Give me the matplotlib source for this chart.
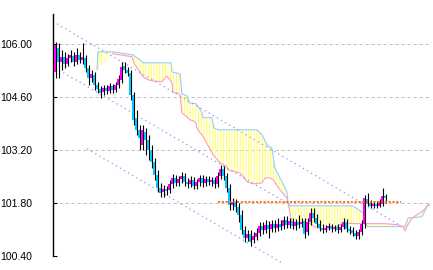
import numpy as np
import matplotlib
matplotlib.use("Agg")
import matplotlib.pyplot as plt

# ---------------- data ----------------
opens = [105.26, 105.89, 105.52, 105.66, 105.47, 105.63, 105.68, 105.52, 105.71, 105.58,
         105.63, 105.37, 105.10, 105.18, 104.92, 104.81, 104.73, 104.84, 104.76, 104.89,
         104.79, 104.92, 105.05, 105.42, 105.31, 105.23, 104.65, 104.05, 103.73, 103.33,
         103.68, 103.46, 103.20, 102.88, 102.54, 102.20, 102.09, 102.17, 102.14, 102.30,
         102.46, 102.33, 102.43, 102.51, 102.36, 102.30, 102.41, 102.25, 102.36, 102.46,
         102.33, 102.43, 102.36, 102.41, 102.30, 102.51, 102.70, 102.51, 102.20, 101.75,
         101.83, 101.70, 101.48, 101.09, 100.88, 100.98, 100.82, 100.90, 101.01, 101.19,
         101.09, 101.22, 101.11, 101.25, 101.14, 101.25, 101.19, 101.35, 101.22, 101.33,
         101.19, 101.30, 101.25, 101.33, 101.03, 101.30, 101.54, 101.40, 101.25, 101.14,
         101.09, 101.14, 101.19, 101.11, 101.17, 101.09, 101.17, 101.30, 101.11, 101.09,
         101.01, 100.93, 101.03, 101.25, 101.91, 101.80, 101.72, 101.77, 101.72, 101.77,
         101.99]
closes = [105.97, 105.52, 105.66, 105.47, 105.63, 105.71, 105.52, 105.71, 105.58, 105.66,
          105.37, 105.10, 105.21, 104.92, 104.81, 104.71, 104.84, 104.76, 104.89, 104.79,
          104.92, 105.08, 105.39, 105.31, 105.23, 104.65, 103.99, 103.73, 103.52, 103.73,
          103.46, 103.20, 102.88, 102.54, 102.20, 102.06, 102.17, 102.12, 102.30, 102.46,
          102.33, 102.43, 102.51, 102.36, 102.30, 102.41, 102.25, 102.36, 102.46, 102.33,
          102.43, 102.36, 102.41, 102.30, 102.51, 102.70, 102.51, 102.20, 101.75, 101.83,
          101.70, 101.48, 101.09, 100.88, 100.98, 100.77, 100.93, 101.01, 101.19, 101.09,
          101.22, 101.11, 101.25, 101.14, 101.25, 101.17, 101.35, 101.22, 101.33, 101.19,
          101.30, 101.22, 101.30, 100.98, 101.30, 101.54, 101.40, 101.25, 101.14, 101.09,
          101.14, 101.19, 101.11, 101.17, 101.09, 101.17, 101.30, 101.11, 101.06, 101.01,
          100.93, 101.03, 101.25, 101.93, 101.77, 101.72, 101.77, 101.72, 101.83, 101.99,
          101.93]
highs = [106.05, 106.03, 105.84, 105.79, 105.74, 105.84, 105.79, 105.89, 105.79, 106.03,
         105.71, 105.45, 105.31, 105.26, 105.00, 104.89, 104.92, 104.92, 104.97, 104.94,
         105.00, 105.18, 105.52, 105.52, 105.39, 105.31, 104.73, 104.26, 103.86, 103.86,
         103.78, 103.60, 103.33, 102.99, 102.67, 102.33, 102.28, 102.25, 102.41, 102.57,
         102.54, 102.51, 102.62, 102.59, 102.46, 102.51, 102.49, 102.43, 102.54, 102.54,
         102.51, 102.51, 102.49, 102.49, 102.62, 102.80, 102.78, 102.59, 102.30, 101.93,
         101.91, 101.80, 101.62, 101.19, 101.09, 101.09, 101.03, 101.14, 101.30, 101.30,
         101.35, 101.33, 101.35, 101.35, 101.40, 101.35, 101.46, 101.46, 101.40, 101.40,
         101.38, 101.48, 101.40, 101.40, 101.40, 101.67, 101.67, 101.51, 101.35, 101.25,
         101.22, 101.27, 101.25, 101.22, 101.25, 101.25, 101.40, 101.38, 101.19, 101.17,
         101.09, 101.11, 101.35, 102.01, 102.06, 101.88, 101.85, 101.85, 101.91, 102.20,
         102.04]
lows = [105.10, 105.10, 105.31, 105.37, 105.42, 105.52, 105.42, 105.47, 105.50, 105.47,
        105.26, 104.92, 105.00, 104.79, 104.71, 104.57, 104.65, 104.68, 104.71, 104.71,
        104.73, 104.84, 104.97, 105.23, 105.15, 104.52, 103.86, 103.60, 103.20, 103.20,
        103.07, 102.94, 102.72, 102.41, 102.09, 101.96, 101.96, 102.01, 102.06, 102.20,
        102.25, 102.25, 102.33, 102.25, 102.20, 102.22, 102.17, 102.17, 102.25, 102.22,
        102.25, 102.28, 102.25, 102.20, 102.22, 102.43, 102.41, 102.09, 101.62, 101.62,
        101.56, 101.30, 100.98, 100.77, 100.80, 100.67, 100.74, 100.82, 100.93, 100.98,
        101.01, 100.88, 101.03, 101.03, 101.06, 101.09, 101.11, 101.14, 101.14, 101.11,
        101.09, 101.14, 101.17, 100.88, 100.96, 101.22, 101.30, 101.17, 101.06, 101.01,
        101.03, 101.09, 101.03, 101.06, 101.01, 101.03, 101.11, 101.03, 100.98, 100.93,
        100.85, 100.85, 100.96, 101.14, 101.72, 101.67, 101.67, 101.67, 101.70, 101.72,
        101.80]

# Ichimoku cloud edges (bar index, price)
span_a_x = [14, 14.3, 19.3, 26, 28.3, 29.3, 38.7, 39, 41.7, 42.3, 44, 44.7, 47, 48, 49,
            49.3, 52.3, 53, 54.3, 67.3, 69, 70.7, 72.3, 73.3, 75, 77.3, 77.7, 78.3, 99.3,
            102.7, 103.7, 104.3, 116.7, 117.7, 122.3, 124, 125]
span_a_y = [105.31, 105.79, 105.79, 105.71, 105.58, 105.50, 105.50, 105.26, 105.21, 104.68,
            104.63, 104.44, 104.42, 104.31, 104.18, 104.05, 104.05, 103.78, 103.73, 103.73,
            103.60, 103.33, 103.25, 102.72, 102.46, 102.09, 101.80, 101.72, 101.72, 101.54,
            101.22, 101.17, 101.17, 101.40, 101.43, 101.70, 101.75]
span_b_x = [19.3, 21.7, 25.7, 26.3, 29.3, 31, 32.7, 35.7, 36.7, 37.3, 38.3, 39, 39.3, 40.7,
            41.7, 42.3, 44, 45, 46, 47, 47.3, 48.3, 49, 50, 52.7, 55, 57.3, 57.7, 61.7, 64,
            66, 69, 70, 71.7, 72.7, 75, 77.3, 78.3, 79, 85, 87, 89.3, 91.7, 94, 96, 100,
            110, 114.3, 116, 116.7, 117.3, 119, 121.7, 122.7, 124, 125]
span_b_y = [105.74, 105.71, 105.66, 105.50, 105.13, 105.05, 105.02, 105.00, 105.10, 105.15,
            105.05, 104.97, 104.71, 104.71, 104.65, 104.18, 104.07, 103.99, 103.97, 103.91,
            103.78, 103.65, 103.60, 103.46, 103.07, 102.86, 102.75, 102.67, 102.59, 102.36,
            102.30, 102.33, 102.46, 102.46, 102.41, 102.14, 101.93, 101.54, 101.30, 101.25,
            101.14, 101.11, 101.11, 101.17, 101.27, 101.25, 101.25, 101.22, 101.17, 101.06,
            101.17, 101.40, 101.54, 101.59, 101.72, 101.77]

# trend channel lines: (start index, start price, end index, end price)
trend_lines = [
    (0.7, 106.53, 114.3, 101.24),
    (0.0, 105.37, 77.0, 101.81),
    (10.7, 103.23, 75.7, 100.21),
]
# horizontal resistance line
level_price = 101.82
level_start, level_end = 54.3, 115.3

y_ticks = [100.40, 101.80, 103.20, 104.60, 106.00]
y_tick_labels = ["100.40", "101.80", "103.20", "104.60", "106.00"]

# ---------------- drawing ----------------
plt.rcParams['hatch.linewidth'] = 0.8
W, H, DPI = 433, 270, 100
fig = plt.figure(figsize=(W / DPI, H / DPI), dpi=DPI)
fig.patch.set_facecolor('white')
ax = fig.add_axes([53 / W, 14 / H, 377 / W, 242 / H])
ax.set_xlim(-0.67, 125)
ax.set_ylim(100.395, 106.79)

# grid
for t in y_ticks:
    ax.axhline(t, color='#c0c0c0', lw=0.72, ls=(0, (3.3, 2.7)), zorder=0)

# cloud
cx = np.concatenate([span_a_x, span_b_x[::-1]])
cy = np.concatenate([span_a_y, span_b_y[::-1]])
ax.fill(cx, cy, facecolor='none', edgecolor='#ffff70', hatch='||||||', linewidth=0, zorder=1)
ax.plot(span_a_x, span_a_y, color='#99ccff', lw=0.8, zorder=2)
ax.plot(span_b_x, span_b_y, color='#ff99cc', lw=0.8, zorder=2)

# trend lines
for i, (x0, y0, x1, y1) in enumerate(trend_lines):
    ax.plot([x0, x1], [y0, y1], color='#9090ff', lw=0.9, ls=(0, (1, 2.8)),
            zorder=3, clip_on=False)

# candles
idx = np.arange(len(closes))
o = np.array(opens); c = np.array(closes)
h = np.array(highs); l = np.array(lows)
ax.vlines(idx + 0.45, l, h, color='black', lw=0.8, zorder=4)
up = c >= o
body = np.where(np.abs(c - o) < 0.03, 0.03, c - o)
ax.bar(idx[up], body[up], bottom=o[up], width=0.62, color='#ff00ff', linewidth=0, zorder=5)
ax.bar(idx[~up], body[~up], bottom=o[~up], width=0.62, color='#00c8ff', linewidth=0, zorder=5)

# orange level
ax.plot([level_start, level_end], [level_price, level_price], color='#ff6a00', lw=1.3,
        ls=(0, (1.2, 0.9)), zorder=6)

# axes styling
for s in ['top', 'right', 'bottom']:
    ax.spines[s].set_visible(False)
ax.spines['left'].set_color('black')
ax.spines['left'].set_linewidth(1.0)
ax.set_xticks([])
ax.set_yticks(y_ticks)
ax.set_yticklabels(y_tick_labels)
ax.tick_params(axis='y', direction='in', length=3, width=0.8, color='black', pad=15,
               labelsize=7.6)
for lab in ax.get_yticklabels():
    lab.set_fontfamily('Liberation Sans')
ax.set_facecolor('white')

fig.savefig('out.png', dpi=DPI)
